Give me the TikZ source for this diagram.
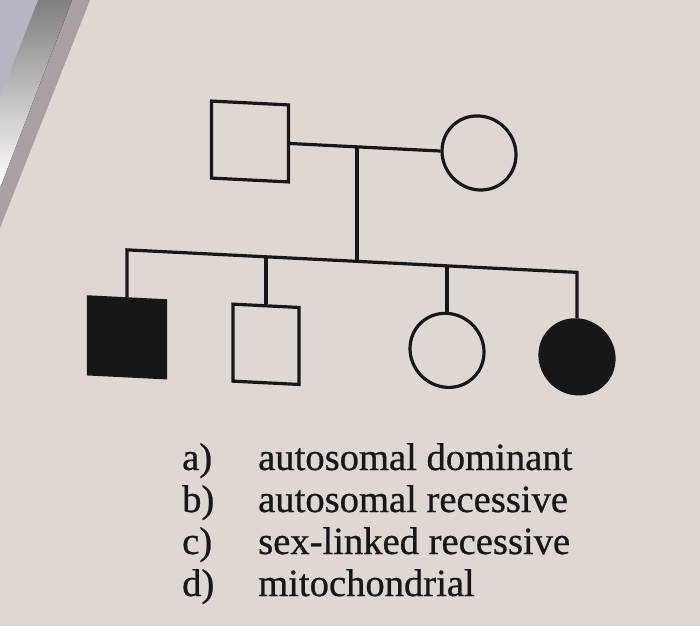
\documentclass[tikz,border=0pt]{standalone}
\usepackage{fontspec}
\setmainfont{Liberation Serif}
\newfontfamily\printfont{Liberation Serif}[FakeBold=0.7]
\definecolor{paper}{HTML}{DFD8D2}
\definecolor{ink}{HTML}{181616}
\definecolor{shade}{HTML}{766C78}
\definecolor{desk}{HTML}{B7B5C2}
\definecolor{soft}{HTML}{AAA0A4}

\begin{document}
\begin{tikzpicture}[
    x=1pt, y=-1pt,
    male/.style={rectangle, draw=ink, line width=3.2pt, minimum width=77pt, minimum height=77pt, inner sep=0pt},
    female/.style={circle, draw=ink, line width=3.2pt, minimum size=74pt, inner sep=0pt},
    link/.style={draw=ink, line width=3.2pt},
    opt/.style={anchor=base west, inner sep=0pt, text=ink, font=\printfont\fontsize{38.6}{42}\selectfont}
]
    % Paper and shadow
    \fill[paper] (0,0) rectangle (700,626);
    \fill[soft] (0,0) -- (90,0) -- (0,228) -- cycle;
    \fill[shade] (0,0) -- (72,0) -- (0,188) -- cycle;
    \fill[desk] (0,0) -- (38,0) -- (0,97) -- cycle;

    \begin{scope}[yslant=-0.05, transform shape]
    % Parents
    \node[male] (father) at (250,129) {};
    \node[female] (mother) at (479,129) {};
    \coordinate (mate) at (357,129);
    \coordinate (sib) at (357,243.5);

    % Children
    \node[male, fill=ink] (son1) at (127,331) {};
    \node[male, minimum width=66pt] (son2) at (266,331) {};
    \node[female] (dau1) at (447,328) {};
    \node[female, fill=ink] (dau2) at (577,328) {};
    \coordinate (d1) at (127,243.5);
    \coordinate (d2) at (266,243.5);
    \coordinate (d3) at (447,243.5);
    \coordinate (d4) at (577,243.5);

    % Lines
    \draw[link] (father) -- (mother);
    \draw[link] (mate) -- (sib);
    \draw[link] (son1) -- (d1) -- (d4) -- (dau2);
    \draw[link] (d2) -- (son2);
    \draw[link] (d3) -- (dau1);
    \end{scope}

    % Answer choices
    \node[opt] (optA) at (182,470) {a)};
    \node[opt] (optB) at (182,512) {b)};
    \node[opt] (optC) at (182,554) {c)};
    \node[opt] (optD) at (182,596) {d)};
    \node[opt] (textA) at (258,470) {autosomal dominant};
    \node[opt] (textB) at (258,512) {autosomal recessive};
    \node[opt] (textC) at (258,554) {sex-linked recessive};
    \node[opt] (textD) at (258,596) {mitochondrial};
\end{tikzpicture}
\end{document}
